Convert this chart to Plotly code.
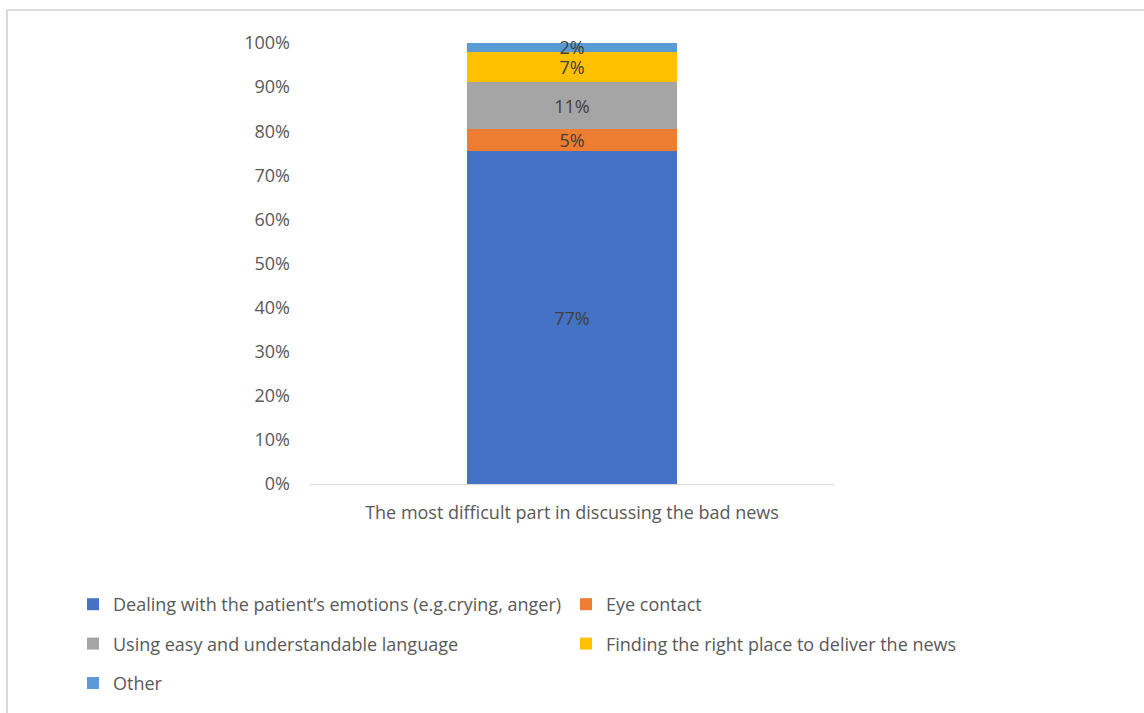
import plotly.graph_objects as go

# Survey responses: the most difficult part in discussing bad news
category = ["The most difficult part in discussing the bad news"]
series_names = [
    "Dealing with the patient\u2019s emotions (e.g.crying, anger)",
    "Eye contact",
    "Using easy and understandable language",
    "Finding the right place to deliver the news",
    "Other",
]
series_values = [77, 5, 11, 7, 2]
series_colors = ["#4472C4", "#ED7D31", "#A5A5A5", "#FFC000", "#5B9BD5"]
# legend column each series is listed in
legend_column = ["legend", "legend2", "legend", "legend2", "legend"]

FONT = "Open Sans"
FS = 18
W, H = 1144, 713
L, R, T, B = 310, 310, 43, 229
PW, PH = W - L - R, H - T - B


def px_x(px):
    return (px - L) / PW


def px_y(py):
    return (H - B - py) / PH


fig = go.Figure()
for name, val, col, leg in zip(series_names, series_values, series_colors, legend_column):
    fig.add_trace(go.Bar(
        x=category,
        y=[val],
        name=name,
        marker=dict(color=col, line=dict(width=0)),
        width=0.4,
        text=[f"{val}%"],
        texttemplate="%{text}",
        textposition="inside",
        insidetextanchor="middle",
        constraintext="none",
        cliponaxis=False,
        textfont=dict(family=FONT, size=FS, color="#404040"),
        legend=leg,
        legendgroup=name,
        hoverinfo="skip",
    ))

fig.update_layout(
    width=W,
    height=H,
    barmode="stack",
    barnorm="percent",
    margin=dict(l=L, r=R, t=T, b=B, autoexpand=False),
    paper_bgcolor="white",
    plot_bgcolor="white",
    font=dict(family=FONT, size=FS, color="#595959"),
    xaxis=dict(
        showgrid=False,
        showline=True,
        linecolor="#D9D9D9",
        linewidth=1,
        ticks="",
        tickfont=dict(family=FONT, size=FS, color="#595959"),
        ticklabelstandoff=12,
    ),
    yaxis=dict(
        range=[0, 100],
        tickvals=[0, 10, 20, 30, 40, 50, 60, 70, 80, 90, 100],
        ticktext=["0%", "10%", "20%", "30%", "40%", "50%", "60%", "70%", "80%", "90%", "100%"],
        showgrid=False,
        showline=False,
        zeroline=False,
        ticks="",
        ticklabelstandoff=19,
        tickfont=dict(family=FONT, size=FS, color="#595959"),
    ),
    legend=dict(
        x=px_x(73), y=px_y(586), xanchor="left", yanchor="top",
        orientation="v", tracegroupgap=13, bgcolor="rgba(0,0,0,0)",
        font=dict(family=FONT, size=FS, color="#595959"),
    ),
    legend2=dict(
        x=px_x(566), y=px_y(586), xanchor="left", yanchor="top",
        orientation="v", tracegroupgap=13, bgcolor="rgba(0,0,0,0)",
        font=dict(family=FONT, size=FS, color="#595959"),
    ),
    shapes=[
        dict(type="line", xref="paper", yref="paper",
             x0=px_x(7), x1=px_x(W + 5), y0=px_y(10), y1=px_y(10),
             line=dict(color="#D9D9D9", width=2)),
        dict(type="line", xref="paper", yref="paper",
             x0=px_x(7), x1=px_x(7), y0=px_y(10), y1=px_y(H + 5),
             line=dict(color="#D9D9D9", width=2)),
    ],
    showlegend=True,
)

fig.write_html("out.html")
